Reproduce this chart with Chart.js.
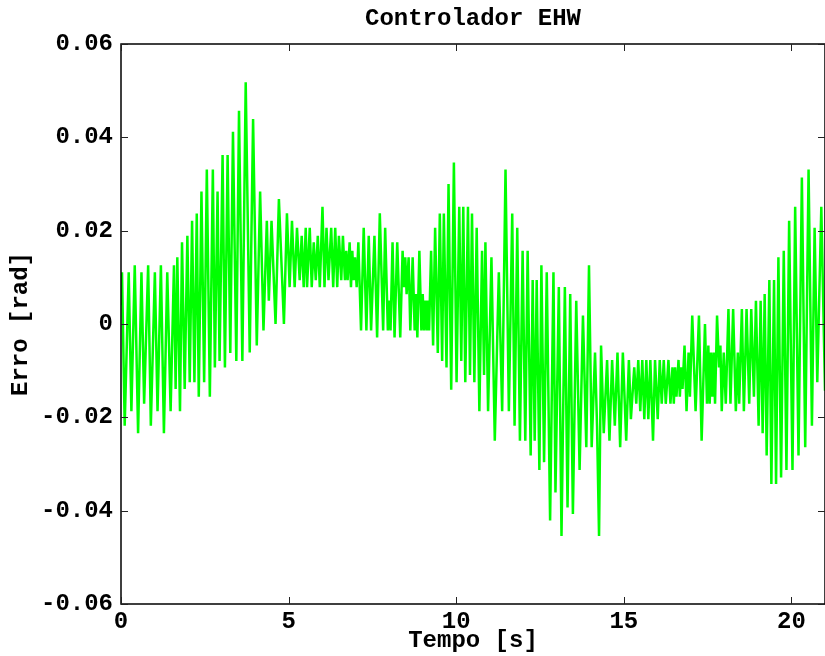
<!DOCTYPE html>
<html>
<head>
<meta charset="utf-8">
<title>Controlador EHW</title>
<script src="https://cdn.jsdelivr.net/npm/chart.js@4/dist/chart.umd.min.js"></script>
<style>
  html, body { margin: 0; padding: 0; background: #fff; }
  #wrap { width: 825px; height: 656px; }
</style>
</head>
<body>
<div id="wrap"><canvas id="c" width="825" height="656"></canvas></div>
<script>
// Tempo [s] of each sample
const tempo = [
  0, 0.03, 0.11, 0.23, 0.31, 0.41, 0.51, 0.61, 0.69, 0.81, 0.89, 1.01, 1.09, 1.19, 1.28, 1.38, 1.48, 1.58, 1.63, 1.68,
  1.76, 1.82, 1.90, 1.98, 2.05, 2.12, 2.19, 2.26, 2.32, 2.40, 2.48, 2.56, 2.65, 2.74, 2.80, 2.88, 2.94, 3.03, 3.10, 3.18,
  3.26, 3.34, 3.44, 3.52, 3.62, 3.72, 3.84, 3.94, 4.05, 4.15, 4.25, 4.35, 4.41, 4.49, 4.61, 4.71, 4.86, 4.95, 5.03, 5.10,
  5.18, 5.25, 5.33, 5.39, 5.45, 5.51, 5.55, 5.63, 5.69, 5.75, 5.81, 5.87, 5.93, 6.01, 6.07, 6.13, 6.19, 6.27, 6.33, 6.39,
  6.45, 6.50, 6.57, 6.62, 6.68, 6.72, 6.76, 6.82, 6.86, 6.90, 6.94, 6.98, 7.03, 7.08, 7.16, 7.24, 7.32, 7.39, 7.46, 7.56,
  7.64, 7.72, 7.82, 7.88, 7.96, 8.00, 8.04, 8.10, 8.16, 8.24, 8.33, 8.40, 8.44, 8.48, 8.52, 8.58, 8.63, 8.70, 8.76, 8.80,
  8.84, 8.90, 8.96, 9.00, 9.04, 9.08, 9.12, 9.15, 9.19, 9.25, 9.31, 9.37, 9.45, 9.51, 9.58, 9.63, 9.71, 9.77, 9.85, 9.93,
  10.01, 10.09, 10.15, 10.21, 10.27, 10.35, 10.41, 10.47, 10.54, 10.61, 10.69, 10.77, 10.83, 10.87, 10.95, 11.05, 11.15, 11.27, 11.37, 11.47,
  11.57, 11.67, 11.74, 11.82, 11.90, 11.98, 12.06, 12.13, 12.22, 12.28, 12.34, 12.40, 12.48, 12.54, 12.62, 12.70, 12.80, 12.90, 12.96, 13.06,
  13.14, 13.24, 13.32, 13.40, 13.48, 13.58, 13.68, 13.78, 13.88, 13.96, 14.04, 14.14, 14.20, 14.26, 14.32, 14.40, 14.50, 14.57, 14.65, 14.73,
  14.81, 14.89, 14.97, 15.07, 15.15, 15.21, 15.31, 15.37, 15.43, 15.49, 15.55, 15.61, 15.67, 15.73, 15.79, 15.87, 15.93, 16.01, 16.07, 16.13,
  16.19, 16.25, 16.33, 16.39, 16.45, 16.49, 16.53, 16.57, 16.63, 16.67, 16.71, 16.75, 16.81, 16.87, 16.93, 16.97, 17.04, 17.14, 17.24, 17.32,
  17.42, 17.48, 17.52, 17.56, 17.60, 17.64, 17.68, 17.72, 17.78, 17.84, 17.88, 17.92, 17.98, 18.04, 18.12, 18.18, 18.26, 18.34, 18.40, 18.44,
  18.52, 18.58, 18.66, 18.74, 18.80, 18.88, 18.94, 19.02, 19.08, 19.14, 19.20, 19.26, 19.34, 19.40, 19.48, 19.54, 19.61, 19.69, 19.77, 19.85,
  19.93, 20.03, 20.11, 20.21, 20.31, 20.41, 20.51, 20.61, 20.69, 20.77, 20.89, 21.00
];

// Erro [rad] at each sample
const erro = [
  0.0040, 0.0111, -0.0218, 0.0111, -0.0187, 0.0126, -0.0234, 0.0111, -0.0171, 0.0126, -0.0218, 0.0111, -0.0187, 0.0126, -0.0234, 0.0111, -0.0187, 0.0126, -0.0139, 0.0143,
  -0.0187, 0.0175, -0.0139, 0.0189, -0.0125, 0.0221, -0.0125, 0.0237, -0.0156, 0.0284, -0.0125, 0.0331, -0.0156, 0.0331, -0.0093, 0.0284, -0.0079, 0.0362, -0.0093, 0.0362,
  -0.0062, 0.0412, -0.0079, 0.0457, -0.0079, 0.0518, -0.0061, 0.0439, -0.0046, 0.0284, -0.0014, 0.0221, 0.0050, 0.0221, 0.0000, 0.0268, 0.0000, 0.0237, 0.0079, 0.0221,
  0.0079, 0.0206, 0.0094, 0.0189, 0.0079, 0.0206, 0.0079, 0.0206, 0.0079, 0.0175, 0.0094, 0.0189, 0.0079, 0.0251, 0.0079, 0.0206, 0.0094, 0.0206, 0.0079, 0.0206,
  0.0079, 0.0189, 0.0094, 0.0189, 0.0094, 0.0157, 0.0094, 0.0175, 0.0079, 0.0157, 0.0094, 0.0143, 0.0079, 0.0175, -0.0014, 0.0206, -0.0014, 0.0189, -0.0014, 0.0189,
  -0.0029, 0.0237, -0.0014, 0.0206, -0.0014, 0.0050, -0.0014, 0.0175, -0.0029, 0.0175, -0.0029, 0.0157, 0.0079, 0.0143, 0.0064, 0.0143, -0.0014, 0.0143, -0.0014, 0.0064,
  -0.0029, 0.0157, -0.0014, 0.0064, -0.0014, 0.0050, -0.0014, 0.0050, -0.0014, 0.0157, -0.0046, 0.0206, -0.0062, 0.0237, -0.0079, 0.0237, -0.0093, 0.0300, -0.0141, 0.0346,
  -0.0125, 0.0251, -0.0079, 0.0251, -0.0125, 0.0251, -0.0109, 0.0237, -0.0125, 0.0206, -0.0187, 0.0157, -0.0109, 0.0175, -0.0187, 0.0143, -0.0250, 0.0111, -0.0187, 0.0331,
  -0.0187, 0.0237, -0.0218, 0.0206, -0.0250, 0.0157, -0.0250, 0.0157, -0.0282, 0.0094, -0.0250, 0.0094, -0.0313, 0.0126, -0.0296, 0.0111, -0.0421, 0.0111, -0.0361, 0.0079,
  -0.0454, 0.0079, -0.0393, 0.0064, -0.0407, 0.0050, -0.0313, 0.0018, -0.0264, 0.0126, -0.0264, -0.0061, -0.0218, -0.0454, -0.0046, -0.0234, -0.0077, -0.0250, -0.0077, -0.0218,
  -0.0061, -0.0264, -0.0061, -0.0250, -0.0077, -0.0204, -0.0093, -0.0171, -0.0077, -0.0187, -0.0077, -0.0204, -0.0077, -0.0204, -0.0077, -0.0250, -0.0077, -0.0204, -0.0077, -0.0171,
  -0.0077, -0.0171, -0.0077, -0.0171, -0.0093, -0.0171, -0.0093, -0.0156, -0.0077, -0.0156, -0.0093, -0.0139, -0.0046, -0.0187, -0.0061, -0.0156, 0.0018, -0.0187, 0.0018, -0.0250,
  0.0000, -0.0171, -0.0046, -0.0171, -0.0061, -0.0156, -0.0061, -0.0171, 0.0018, -0.0093, -0.0046, -0.0187, -0.0061, -0.0171, 0.0032, -0.0171, 0.0032, -0.0187, -0.0061, -0.0171,
  0.0032, -0.0187, 0.0032, -0.0171, 0.0032, -0.0156, 0.0050, -0.0218, 0.0050, -0.0234, 0.0064, -0.0282, 0.0094, -0.0343, 0.0094, -0.0343, 0.0143, -0.0329, 0.0157, -0.0313,
  0.0221, -0.0313, 0.0251, -0.0282, 0.0314, -0.0264, 0.0331, -0.0218, 0.0206, -0.0125, 0.0251, -0.0143
];

// Axis ticks
const xTicks = [0, 5, 10, 15, 20];
const yTicks = [-0.06, -0.04, -0.02, 0, 0.02, 0.04, 0.06];
const chartTitle = 'Controlador EHW';

const FONT = { family: "'Liberation Mono', 'DejaVu Sans Mono', monospace", size: 24, weight: 'bold' };
const TICK_LEN = 7;

// Title centred over the axes, plus the box around the axes with inward tick marks
const boxTicks = {
  id: 'boxTicks',
  afterDatasetsDraw(chart) {
    const { ctx, chartArea: a } = chart;
    const x = chart.scales.x, y = chart.scales.y;
    ctx.save();
    ctx.strokeStyle = '#000';
    ctx.lineWidth = 1.5;
    ctx.beginPath();
    ctx.moveTo(a.left, a.top);
    ctx.lineTo(a.right, a.top);
    ctx.lineTo(a.right, a.bottom);
    ctx.lineTo(a.left, a.bottom);
    ctx.closePath();
    ctx.stroke();
    ctx.lineWidth = 1;
    ctx.strokeStyle = '#222';
    ctx.beginPath();
    for (const v of xTicks) {
      const px = Math.round(x.getPixelForValue(v)) + 0.5;
      ctx.moveTo(px, a.bottom); ctx.lineTo(px, a.bottom - TICK_LEN);
      ctx.moveTo(px, a.top); ctx.lineTo(px, a.top + TICK_LEN);
    }
    for (const v of yTicks) {
      const py = Math.round(y.getPixelForValue(v)) + 0.5;
      ctx.moveTo(a.left, py); ctx.lineTo(a.left + TICK_LEN, py);
      ctx.moveTo(a.right, py); ctx.lineTo(a.right - TICK_LEN, py);
    }
    ctx.stroke();
    ctx.fillStyle = '#000';
    ctx.font = `${FONT.weight} ${FONT.size}px ${FONT.family}`;
    ctx.textAlign = 'center';
    ctx.textBaseline = 'middle';
    ctx.fillText(chartTitle, (a.left + a.right) / 2, 19);
    ctx.restore();
  }
};

new Chart(document.getElementById('c'), {
  type: 'line',
  data: {
    datasets: [{
      data: tempo.map((t, i) => ({ x: t, y: erro[i] })),
      borderColor: '#00ff00',
      borderWidth: 2.5,
      pointRadius: 0,
      tension: 0,
      fill: false
    }]
  },
  options: {
    responsive: false,
    animation: false,
    devicePixelRatio: 1,
    layout: { padding: { left: 0, right: 0, top: 44, bottom: 0 } },
    plugins: {
      legend: { display: false },
      tooltip: { enabled: false },
      title: { display: false }
    },
    scales: {
      x: {
        type: 'linear',
        min: 0,
        max: 21,
        grid: { display: false, drawTicks: false },
        border: { display: false },
        afterBuildTicks: s => { s.ticks = xTicks.map(v => ({ value: v })); },
        afterFit: s => { s.height = 52; },
        ticks: {
          color: '#000',
          font: FONT,
          padding: 4,
          maxRotation: 0,
          callback: v => String(v)
        },
        title: {
          display: true,
          text: 'Tempo [s]',
          color: '#000',
          font: FONT,
          padding: { top: 1, bottom: 1 }
        }
      },
      y: {
        type: 'linear',
        min: -0.06,
        max: 0.06,
        grid: { display: false, drawTicks: false },
        border: { display: false },
        afterBuildTicks: s => { s.ticks = yTicks.map(v => ({ value: v })); },
        afterFit: s => { s.width = 121; },
        ticks: {
          color: '#000',
          font: FONT,
          padding: 8,
          callback: v => (Math.abs(v) < 1e-9 ? '0' : v.toFixed(2))
        },
        title: {
          display: true,
          text: 'Erro [rad]',
          color: '#000',
          font: FONT,
          padding: { top: 7, bottom: 0 }
        }
      }
    }
  },
  plugins: [boxTicks]
});
</script>
</body>
</html>
